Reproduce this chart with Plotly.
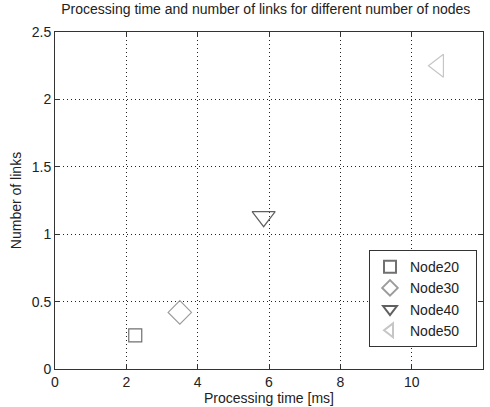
import plotly.graph_objects as go

# Processing time (ms) and number of links per network size
series_names = ["Node20", "Node30", "Node40", "Node50"]
proc_time = [2.25, 3.5, 5.85, 10.75]
num_links = [0.25, 0.42, 1.13, 2.25]

symbols = ["square-open", "diamond-open", "triangle-down-open", "triangle-left-open"]
colors = ["#707070", "#9c9c9c", "#606060", "#c6c6c6"]
sizes = [13, 18, 20, 20]

x_ticks = [0, 2, 4, 6, 8, 10, 12]
y_ticks = [0, 0.5, 1, 1.5, 2, 2.5]
y_tick_text = ["0", "0.5", "1", "1.5", "2", "2.5"]

# a little trailing space widens the legend box on the right
pad = "\u00a0" * 3

fig = go.Figure()
for name, x, y, sym, col, sz in zip(series_names, proc_time, num_links, symbols, colors, sizes):
    fig.add_trace(go.Scatter(
        x=[x], y=[y], mode="markers", name=name + pad,
        marker=dict(symbol=sym, size=sz, color=col, line=dict(width=1.2, color=col)),
    ))

axis_common = dict(
    showline=True, linecolor="#333", linewidth=1, mirror="ticks",
    ticks="inside", ticklen=5, tickcolor="#333",
    showgrid=True, gridcolor="#222", griddash="1px,3px", gridwidth=1,
    zeroline=False, tickfont=dict(size=14, color="#222"),
)

fig.update_layout(
    width=490, height=407,
    margin=dict(l=55, r=6, t=32, b=35),
    paper_bgcolor="white", plot_bgcolor="white",
    font=dict(family="Liberation Sans, Arial, sans-serif", color="#222"),
    title=dict(text="Processing time and number of links for different number of nodes",
               x=0.125, xanchor="left", y=0.99, yanchor="top",
               font=dict(size=14, color="#222")),
    xaxis=dict(range=[0, 12], tickvals=x_ticks,
               title=dict(text="Processing time [ms]", font=dict(size=14), standoff=1),
               **axis_common),
    yaxis=dict(range=[0, 2.5], tickvals=y_ticks, ticktext=y_tick_text,
               title=dict(text="Number of links", font=dict(size=14), standoff=6),
               **axis_common),
    legend=dict(x=0.986, xanchor="right", y=0.065, yanchor="bottom",
                bgcolor="white", bordercolor="#333", borderwidth=1,
                font=dict(size=14, color="#222"), itemsizing="constant",
                tracegroupgap=0),
    showlegend=True,
)

fig.write_html("out.html")
